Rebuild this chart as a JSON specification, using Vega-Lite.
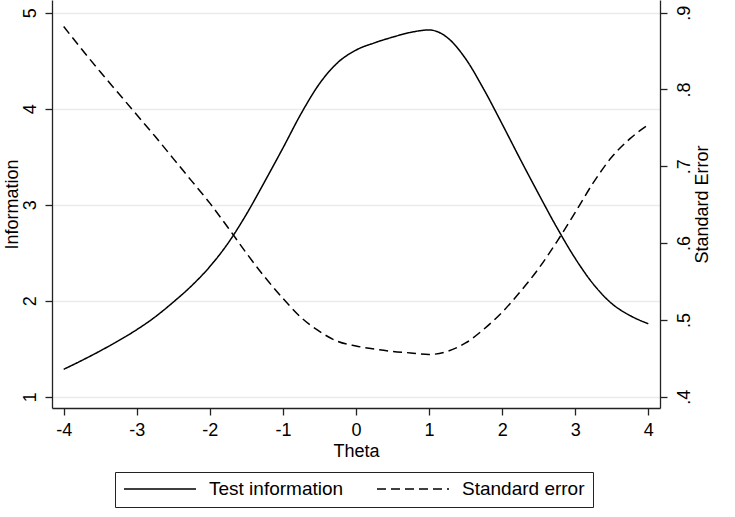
{
  "$schema": "https://vega.github.io/schema/vega-lite/v6.json",
  "autosize": {"type": "none"},
  "width": 608,
  "height": 408,
  "padding": {"left": 52, "top": 0, "right": 75, "bottom": 109},
  "background": "white",
  "config": {
    "font": "Liberation Sans",
    "view": {"stroke": null},
    "axis": {
      "domainColor": "#222222",
      "domainWidth": 1.3,
      "tickColor": "#222222",
      "tickWidth": 1.3,
      "tickSize": 7,
      "labelColor": "black",
      "titleColor": "black",
      "labelFontSize": 18,
      "titleFontSize": 18,
      "titleFontWeight": "normal",
      "gridColor": "#ececec",
      "gridWidth": 1.5
    },
    "legend": {
      "orient": "none",
      "legendX": 63,
      "legendY": 472,
      "direction": "horizontal",
      "strokeColor": "#222222",
      "padding": 8,
      "symbolType": "stroke",
      "symbolSize": 5184,
      "clipHeight": 18,
      "symbolStrokeWidth": 1.5,
      "symbolStrokeColor": "black",
      "labelFontSize": 19,
      "labelColor": "black",
      "labelOffset": 12,
      "columnPadding": 32,
      "title": null
    }
  },
  "data": {
    "values": [
      {"theta": -4, "info": 1.285, "se": 0.882},
      {"theta": -3.75, "info": 1.378, "se": 0.852},
      {"theta": -3.5, "info": 1.477, "se": 0.823},
      {"theta": -3.25, "info": 1.583, "se": 0.795},
      {"theta": -3, "info": 1.698, "se": 0.767},
      {"theta": -2.75, "info": 1.83, "se": 0.739},
      {"theta": -2.5, "info": 1.985, "se": 0.71},
      {"theta": -2.25, "info": 2.155, "se": 0.681},
      {"theta": -2, "info": 2.355, "se": 0.652},
      {"theta": -1.75, "info": 2.6, "se": 0.62},
      {"theta": -1.5, "info": 2.9, "se": 0.587},
      {"theta": -1.25, "info": 3.24, "se": 0.556},
      {"theta": -1, "info": 3.59, "se": 0.528},
      {"theta": -0.75, "info": 3.95, "se": 0.503},
      {"theta": -0.5, "info": 4.26, "se": 0.485},
      {"theta": -0.25, "info": 4.48, "se": 0.472},
      {"theta": 0, "info": 4.61, "se": 0.466},
      {"theta": 0.25, "info": 4.685, "se": 0.462},
      {"theta": 0.5, "info": 4.745, "se": 0.459},
      {"theta": 0.75, "info": 4.795, "se": 0.457},
      {"theta": 1, "info": 4.82, "se": 0.455},
      {"theta": 1.25, "info": 4.74, "se": 0.459},
      {"theta": 1.5, "info": 4.52, "se": 0.47},
      {"theta": 1.75, "info": 4.2, "se": 0.488},
      {"theta": 2, "info": 3.84, "se": 0.51},
      {"theta": 2.25, "info": 3.47, "se": 0.537},
      {"theta": 2.5, "info": 3.11, "se": 0.567},
      {"theta": 2.75, "info": 2.76, "se": 0.602},
      {"theta": 3, "info": 2.44, "se": 0.64},
      {"theta": 3.25, "info": 2.17, "se": 0.679},
      {"theta": 3.5, "info": 1.97, "se": 0.712},
      {"theta": 3.75, "info": 1.845, "se": 0.736},
      {"theta": 4, "info": 1.76, "se": 0.754}
    ]
  },
  "encoding": {
    "x": {
      "field": "theta",
      "type": "quantitative",
      "scale": {"domain": [-4.16, 4.16], "nice": false, "zero": false},
      "axis": {
        "title": "Theta",
        "values": [-4, -3, -2, -1, 0, 1, 2, 3, 4],
        "labelExpr": "replace(datum.label, '\u2212', '-')",
        "grid": false,
        "labelPadding": 6,
        "titlePadding": 3
      }
    }
  },
  "layer": [
    {
      "mark": {"type": "line", "color": "black", "strokeWidth": 1.5, "interpolate": "monotone"},
      "encoding": {
        "y": {
          "field": "info",
          "type": "quantitative",
          "scale": {"domain": [0.882, 5.132], "nice": false, "zero": false},
          "axis": {
            "title": "Information",
            "values": [1, 2, 3, 4, 5],
            "grid": true,
            "labelAngle": -90,
            "labelPadding": 6,
            "titlePadding": 0
          }
        },
        "strokeDash": {
          "datum": "Test information",
          "scale": {"domain": ["Test information", "Standard error"], "range": [[1, 0], [9, 5]]}
        }
      }
    },
    {
      "mark": {"type": "line", "color": "black", "strokeWidth": 1.5, "interpolate": "monotone"},
      "encoding": {
        "y": {
          "field": "se",
          "type": "quantitative",
          "scale": {"domain": [0.3853, 0.9165], "nice": false, "zero": false},
          "axis": {
            "orient": "right",
            "title": "Standard Error",
            "values": [0.4, 0.5, 0.6, 0.7, 0.8, 0.9],
            "labelExpr": "replace(format(datum.value, '.1f'), '0.', '.')",
            "grid": false,
            "labelAngle": -90,
            "labelPadding": 8,
            "titleAngle": -90,
            "titleBaseline": "top",
            "titlePadding": 0
          }
        },
        "strokeDash": {"datum": "Standard error"}
      }
    }
  ],
  "resolve": {"scale": {"y": "independent"}}
}
